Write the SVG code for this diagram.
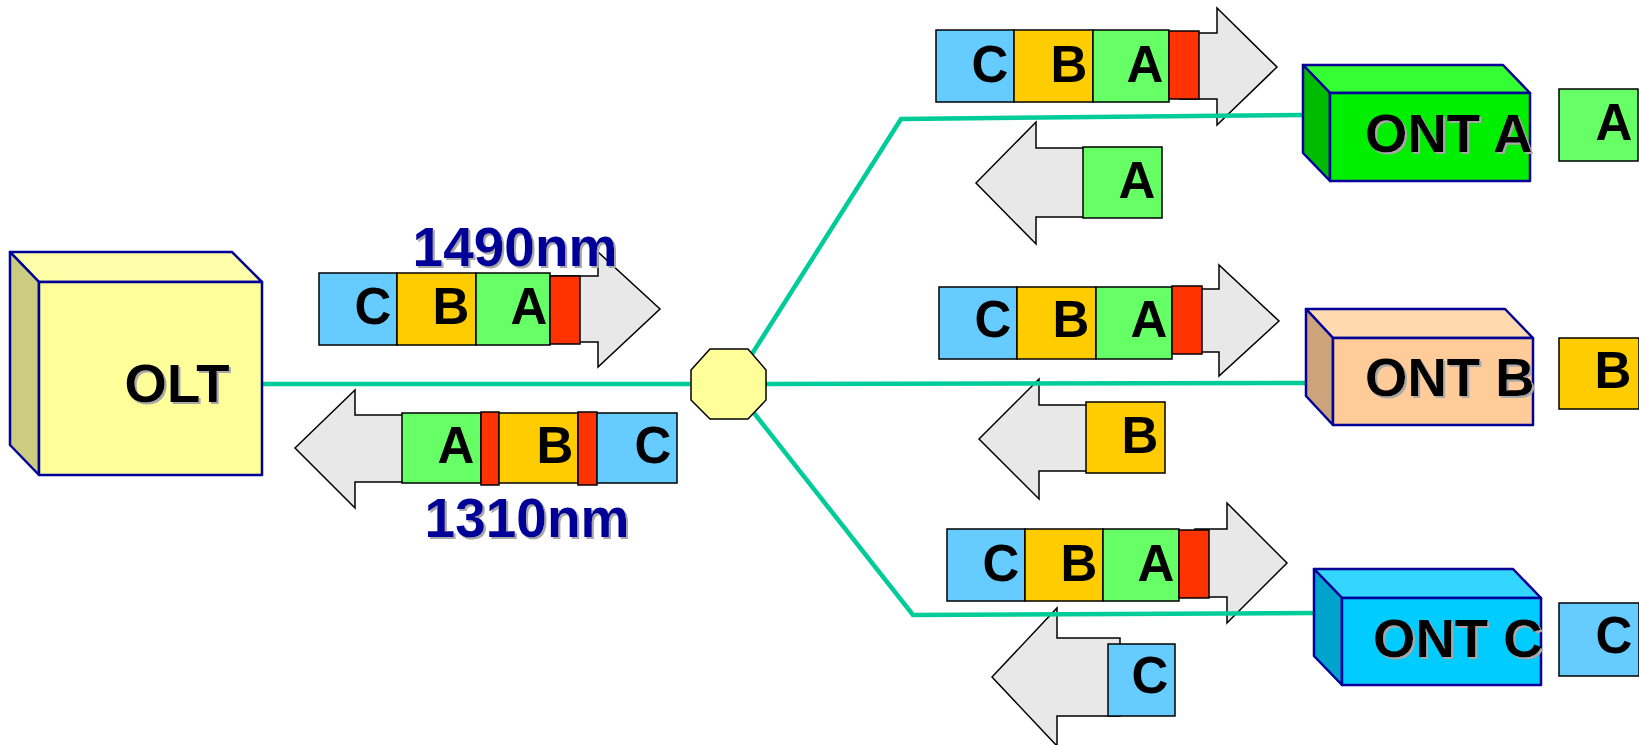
<svg xmlns="http://www.w3.org/2000/svg" width="1639" height="745" viewBox="0 0 1639 745">
  <defs>
    <filter id="shadow" x="-10%" y="-10%" width="130%" height="130%">
      <feDropShadow dx="2" dy="2" stdDeviation="0" flood-color="#A8A8A8" flood-opacity="1"/>
    </filter>
  </defs>
  <style>
    .arrow { fill: #E8E8E8; stroke: #000; stroke-width: 1.5; stroke-linejoin: miter; }
    .cell { stroke: #000; stroke-width: 1.5; }
    .c { fill: #66CCFF; }
    .b { fill: #FFCC00; }
    .a { fill: #66FF66; }
    .r { fill: #FF3300; }
    .lbl { font-family: "Liberation Sans", Arial, sans-serif; font-weight: bold; font-size: 51px; fill: #000; text-anchor: middle; }
    .box3d { stroke: #000099; stroke-width: 2.5; stroke-linejoin: round; }
    .name { font-family: "Liberation Sans", Arial, sans-serif; font-weight: bold; font-size: 54.5px; fill: #000; filter: url(#shadow); }
    .wl { font-family: "Liberation Sans", Arial, sans-serif; font-weight: bold; font-size: 55px; fill: #000099; text-anchor: middle; filter: url(#shadow); }
    .fiber { fill: none; stroke: #00CC99; stroke-width: 4.5; }
  </style>

  <!-- Downstream frame at the OLT (1490nm) -->
  <g id="olt-downstream">
    <polygon class="arrow" points="540,276 598,276 598,252 660,309 598,367 598,342 540,342"/>
    <rect class="cell c" x="319" y="273" width="78" height="72"/>
    <rect class="cell b" x="397" y="273" width="79" height="72"/>
    <rect class="cell a" x="476" y="273" width="74" height="72"/>
    <rect class="cell r" x="550" y="276" width="30" height="68"/>
    <text class="lbl" x="373" y="324">C</text>
    <text class="lbl" x="451" y="324">B</text>
    <text class="lbl" x="529" y="324">A</text>
    <text class="wl" x="515" y="266">1490nm</text>
  </g>

  <!-- Upstream frame at the OLT (1310nm) -->
  <g id="olt-upstream">
    <polygon class="arrow" points="295,448 355,390 355,415 420,415 420,482 355,482 355,508"/>
    <rect class="cell a" x="402" y="413" width="79" height="70"/>
    <rect class="cell r" x="481" y="412" width="18" height="73"/>
    <rect class="cell b" x="499" y="413" width="79" height="70"/>
    <rect class="cell r" x="578" y="412" width="19" height="73"/>
    <rect class="cell c" x="597" y="413" width="80" height="70"/>
    <text class="lbl" x="456" y="463">A</text>
    <text class="lbl" x="555" y="463">B</text>
    <text class="lbl" x="653" y="463">C</text>
    <text class="wl" x="527" y="537">1310nm</text>
  </g>

  <!-- Frames on the ONT A branch -->
  <g id="branch-a-frames">
    <polygon class="arrow" points="1180,33 1217,33 1217,8 1277,67 1217,125 1217,99 1180,99"/>
    <rect class="cell c" x="936" y="30" width="78" height="72"/>
    <rect class="cell b" x="1014" y="30" width="79" height="72"/>
    <rect class="cell a" x="1093" y="30" width="76" height="72"/>
    <rect class="cell r" x="1169" y="31" width="30" height="68"/>
    <text class="lbl" x="990" y="82">C</text>
    <text class="lbl" x="1069" y="82">B</text>
    <text class="lbl" x="1145" y="82">A</text>

    <polygon class="arrow" points="976,183 1036,122 1036,148 1095,148 1095,217 1036,217 1036,244"/>
    <rect class="cell a" x="1083" y="147" width="79" height="71"/>
    <text class="lbl" x="1137" y="198">A</text>
  </g>

  <!-- Frames on the ONT B branch -->
  <g id="branch-b-frames">
    <polygon class="arrow" points="1185,289 1219,289 1219,265 1279,321 1219,376 1219,352 1185,352"/>
    <rect class="cell c" x="939" y="287" width="78" height="72"/>
    <rect class="cell b" x="1017" y="287" width="79" height="72"/>
    <rect class="cell a" x="1096" y="287" width="76" height="72"/>
    <rect class="cell r" x="1172" y="286" width="30" height="68"/>
    <text class="lbl" x="993" y="337">C</text>
    <text class="lbl" x="1071" y="337">B</text>
    <text class="lbl" x="1149" y="337">A</text>

    <polygon class="arrow" points="979,439 1039,379 1039,405 1098,405 1098,471 1039,471 1039,499"/>
    <rect class="cell b" x="1086" y="402" width="79" height="71"/>
    <text class="lbl" x="1140" y="453">B</text>
  </g>

  <!-- Frames on the ONT C branch -->
  <g id="branch-c-frames">
    <polygon class="arrow" points="1195,529 1227,529 1227,503 1287,563 1227,623 1227,597 1195,597"/>
    <rect class="cell c" x="947" y="529" width="78" height="72"/>
    <rect class="cell b" x="1025" y="529" width="78" height="72"/>
    <rect class="cell a" x="1103" y="529" width="76" height="72"/>
    <rect class="cell r" x="1179" y="530" width="30" height="68"/>
    <text class="lbl" x="1001" y="581">C</text>
    <text class="lbl" x="1079" y="581">B</text>
    <text class="lbl" x="1156" y="581">A</text>

    <polygon class="arrow" points="992,677 1057,608 1057,638 1120,638 1120,716 1057,716 1057,746"/>
    <rect class="cell c" x="1108" y="644" width="67" height="72"/>
    <text class="lbl" x="1150" y="693">C</text>
  </g>

  <!-- Fibre runs -->
  <g id="connectors">
    <line class="fiber" x1="262" y1="384" x2="692" y2="384"/>
    <polyline class="fiber" points="752,354 901,119 1305,115"/>
    <line class="fiber" x1="765" y1="384" x2="1308" y2="383"/>
    <polyline class="fiber" points="754,413 913,615 1316,613"/>
  </g>

  <!-- Optical splitter -->
  <g id="splitter">
    <polygon points="710,349 748,349 766,370 766,400 748,419 710,419 691,400 691,370" fill="#FFFF99" stroke="#000" stroke-width="1.5"/>
  </g>

  <!-- OLT -->
  <g id="olt">
    <polygon class="box3d" points="10,252 232,252 262,282 39,282" fill="#FFFFAA"/>
    <polygon class="box3d" points="10,252 39,282 39,475 10,445" fill="#CCCC80"/>
    <rect class="box3d" x="39" y="282" width="223" height="193" fill="#FFFF99"/>
    <text class="name" x="177" y="402" font-size="53" text-anchor="middle">OLT</text>
  </g>

  <!-- ONT A -->
  <g id="ont-a">
    <polygon class="box3d" points="1303,65 1503,65 1530,93 1330,93" fill="#33FF33"/>
    <polygon class="box3d" points="1303,65 1330,93 1330,181 1303,153" fill="#00BB00"/>
    <rect class="box3d" x="1330" y="93" width="200" height="88" fill="#00EE00"/>
    <text class="name" x="1365" y="152">ONT A</text>
    <rect class="cell a" x="1559" y="89" width="79" height="72"/>
    <text class="lbl" x="1614" y="140">A</text>
  </g>

  <!-- ONT B -->
  <g id="ont-b">
    <polygon class="box3d" points="1306,309 1505,309 1533,338 1333,338" fill="#FFD9B0"/>
    <polygon class="box3d" points="1306,309 1333,338 1333,425 1306,396" fill="#CCA37A"/>
    <rect class="box3d" x="1333" y="338" width="200" height="87" fill="#FFCC99"/>
    <text class="name" x="1365" y="396">ONT B</text>
    <rect class="cell b" x="1559" y="338" width="80" height="71"/>
    <text class="lbl" x="1613" y="388">B</text>
  </g>

  <!-- ONT C -->
  <g id="ont-c">
    <polygon class="box3d" points="1314,569 1513,569 1541,598 1342,598" fill="#33D6FF"/>
    <polygon class="box3d" points="1314,569 1342,598 1342,685 1314,656" fill="#00A3CC"/>
    <rect class="box3d" x="1342" y="598" width="199" height="87" fill="#00CCFF"/>
    <text class="name" x="1373" y="657">ONT C</text>
    <rect class="cell c" x="1559" y="603" width="80" height="73"/>
    <text class="lbl" x="1614" y="653">C</text>
  </g>
</svg>
